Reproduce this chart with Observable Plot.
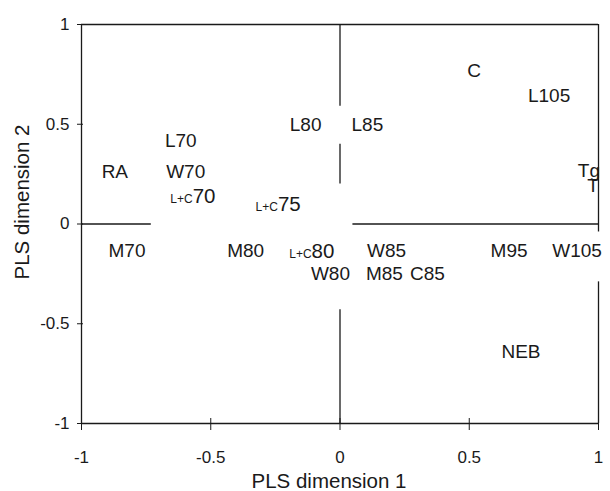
<!DOCTYPE html>
<html><head><meta charset="utf-8">
<script src="https://cdn.jsdelivr.net/npm/d3@7"></script>
<script src="https://cdn.jsdelivr.net/npm/@observablehq/plot@0.6"></script>
<style>body{margin:0;background:#fff}</style>
</head><body><div id="chart"></div>
<script>
// labelled points (text only, no markers)
const pointLabels = ["C","L105","L85","L80","L70","RA","W70","M70","M80","W85","M95","W105","W80","M85","C85","NEB","Tg","T"];
const pointX = [0.519, 0.809, 0.106, -0.133, -0.616, -0.871, -0.597, -0.824, -0.365, 0.180, 0.654, 0.917, -0.037, 0.172, 0.338, 0.700, 0.963, 0.979];
const pointY = [0.769, 0.644, 0.499, 0.499, 0.419, 0.263, 0.263, -0.133, -0.133, -0.133, -0.133, -0.133, -0.248, -0.248, -0.248, -0.639, 0.268, 0.193];
// "L+C" mixture labels: small prefix + large number, joined at x, sharing baseline y
const mixPrefix = ["L+C","L+C","L+C"];
const mixNumber = ["70","75","80"];
const mixX = [-0.57, -0.24, -0.11];
const mixY = [0.103, 0.063, -0.168];
const xTicks = [-1, -0.5, 0, 0.5, 1];
const yTicks = [-1, -0.5, 0, 0.5, 1];
const xTitle = "PLS dimension 1";
const yTitle = "PLS dimension 2";
// visible pieces of the zero lines and of the right border (label boxes hide the rest)
const vZeroPieces = [[1, 0.59], [0.40, 0.20], [-0.43, -1]];
const hZeroPieces = [[-1, -0.73], [0.05, 1]];
const rightBorderPieces = [[1, -0.04], [-0.29, -1]];

const points = pointLabels.map((l, i) => ({label: l, x: pointX[i], y: pointY[i]}));
const mixes = mixPrefix.map((p, i) => ({prefix: p, num: mixNumber[i], x: mixX[i], y: mixY[i]}));
const fmt = d => String(d);
const ink = "#1a1a1a";

const chart = Plot.plot({
  width: 610, height: 491,
  marginLeft: 81, marginRight: 12, marginTop: 24, marginBottom: 68,
  x: {domain: [-1, 1]},
  y: {domain: [-1, 1]},
  style: {fontFamily: "'Liberation Sans', Arial, sans-serif", color: ink, background: "#fff"},
  marks: [
    Plot.ruleY([1, -1], {stroke: ink, strokeWidth: 1.3}),
    Plot.ruleX([-1], {stroke: ink, strokeWidth: 1.3}),
    Plot.ruleX(rightBorderPieces, {x: 1, y1: d => d[0], y2: d => d[1], stroke: ink, strokeWidth: 1.3}),
    Plot.ruleX(vZeroPieces, {x: 0, y1: d => d[0], y2: d => d[1], stroke: ink, strokeWidth: 1.3}),
    Plot.ruleY(hZeroPieces, {y: 0, x1: d => d[0], x2: d => d[1], stroke: ink, strokeWidth: 1.3}),
    Plot.axisY(yTicks, {tickSize: 6, dx: 2, tickFormat: () => "", label: null, stroke: ink}),
    Plot.axisY(yTicks, {tickSize: 0, tickPadding: 12, fontSize: 17, tickFormat: fmt, label: null, fill: ink}),
    Plot.axisX(xTicks, {tickSize: 12, dy: -5, tickFormat: () => "", label: null, stroke: ink}),
    Plot.axisX(xTicks, {tickSize: 0, tickPadding: 27, fontSize: 17, tickFormat: fmt, label: null, fill: ink}),
    Plot.text(points, {x: "x", y: "y", text: "label", fontSize: 19, fill: ink, lineAnchor: "middle"}),
    Plot.text(mixes, {x: "x", y: "y", text: "prefix", fontSize: 12, fill: ink, textAnchor: "end", lineAnchor: "bottom"}),
    Plot.text(mixes, {x: "x", y: "y", text: "num", fontSize: 20.5, fill: ink, textAnchor: "start", lineAnchor: "bottom"}),
    Plot.text([xTitle], {frameAnchor: "bottom", dy: 58, dx: -11, lineAnchor: "middle", textAnchor: "middle", fontSize: 20.5, fill: ink}),
    Plot.text([yTitle], {frameAnchor: "left", rotate: -90, dx: -59, dy: -22, lineAnchor: "middle", textAnchor: "middle", fontSize: 20.5, fill: ink})
  ]
});
document.getElementById("chart").append(chart);
</script>
</body></html>
